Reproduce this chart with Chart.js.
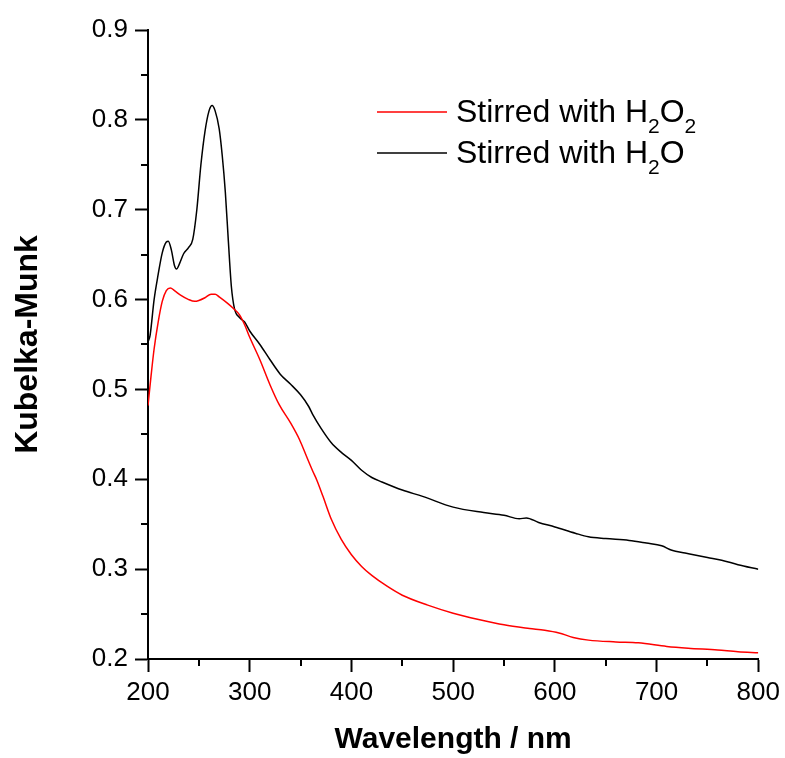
<!DOCTYPE html>
<html>
<head>
<meta charset="utf-8">
<script src="https://cdn.jsdelivr.net/npm/chart.js@4"></script>
<style>
  html, body { margin: 0; padding: 0; background: #fff; }
  #wrap { width: 785px; height: 758px; }
</style>
</head>
<body>
<div id="wrap"><canvas id="myChart" width="785" height="758"></canvas></div>
<script>
const ctx = document.getElementById("myChart");

// Stirred with H2O (black)
const h2oWavelength = [200, 202, 206, 210, 214, 218, 220, 223, 226, 228, 231, 235, 240, 244, 248, 252, 256, 260, 263, 266, 270, 273, 276, 279, 282, 285, 290, 295, 300, 310, 320, 330, 340, 350, 358, 362, 370, 380, 390, 400, 410, 420, 430, 450, 470, 500, 530, 550, 565, 572, 584, 600, 620, 633, 650, 673, 690, 705, 715, 728, 750, 764, 780, 800];
const h2oValues = [0.553, 0.560, 0.600, 0.628, 0.652, 0.664, 0.665, 0.655, 0.638, 0.634, 0.640, 0.651, 0.658, 0.667, 0.700, 0.750, 0.787, 0.810, 0.816, 0.810, 0.790, 0.760, 0.720, 0.665, 0.614, 0.590, 0.580, 0.575, 0.565, 0.550, 0.533, 0.517, 0.506, 0.494, 0.481, 0.472, 0.457, 0.441, 0.430, 0.421, 0.410, 0.402, 0.397, 0.388, 0.381, 0.369, 0.363, 0.360, 0.356, 0.357, 0.352, 0.347, 0.340, 0.336, 0.334, 0.332, 0.329, 0.326, 0.321, 0.318, 0.313, 0.310, 0.305, 0.300];

// Stirred with H2O2 (red)
const h2o2Wavelength = [200, 203, 206, 210, 214, 218, 222, 226, 232, 240, 246, 250, 256, 262, 266, 270, 278, 284, 290, 295, 300, 310, 320, 329, 340, 349, 356, 362, 366, 372, 380, 390, 400, 410, 420, 435, 450, 475, 500, 525, 550, 575, 590, 604, 618, 633, 660, 682, 710, 731, 760, 780, 800];
const h2o2Values = [0.482, 0.515, 0.545, 0.575, 0.598, 0.610, 0.613, 0.610, 0.605, 0.600, 0.598, 0.599, 0.602, 0.606, 0.606, 0.603, 0.596, 0.590, 0.583, 0.572, 0.558, 0.533, 0.505, 0.483, 0.463, 0.444, 0.425, 0.409, 0.399, 0.381, 0.356, 0.333, 0.316, 0.303, 0.293, 0.281, 0.271, 0.260, 0.251, 0.244, 0.238, 0.234, 0.232, 0.229, 0.224, 0.221, 0.219, 0.218, 0.214, 0.212, 0.210, 0.208, 0.207];

const xMinorTicks = [250, 350, 450, 550, 650, 750];
const yMinorTicks = [0.25, 0.35, 0.45, 0.55, 0.65, 0.75, 0.85];

function toPoints(xs, ys) {
  return xs.map((x, i) => ({ x: x, y: ys[i] }));
}

const FONT = "'Liberation Sans', Arial, sans-serif";

// minor ticks drawn from the scales
const minorTicks = {
  id: "minorTicks",
  afterDraw(chart) {
    const c = chart.ctx;
    const area = chart.chartArea;
    const xs = chart.scales.x;
    const ys = chart.scales.y;
    c.save();
    c.strokeStyle = "#000";
    c.lineWidth = 2;
    c.beginPath();
    xMinorTicks.forEach((v) => {
      const px = Math.round(xs.getPixelForValue(v));
      c.moveTo(px, area.bottom);
      c.lineTo(px, area.bottom + 7);
    });
    yMinorTicks.forEach((v) => {
      const py = Math.round(ys.getPixelForValue(v));
      c.moveTo(area.left, py);
      c.lineTo(area.left - 7, py);
    });
    c.stroke();
    c.restore();
  },
};

// legend with subscripts
const subLegend = {
  id: "subLegend",
  afterDraw(chart) {
    const c = chart.ctx;
    const rows = [
      { color: "#ff0000", y: 112, parts: [["Stirred with H", 0], ["2", 1], ["O", 0], ["2", 1]] },
      { color: "#000000", y: 153, parts: [["Stirred with H", 0], ["2", 1], ["O", 0]] },
    ];
    c.save();
    rows.forEach((r) => {
      c.strokeStyle = r.color;
      c.lineWidth = 1.5;
      c.beginPath();
      c.moveTo(377, r.y);
      c.lineTo(447, r.y);
      c.stroke();
      let x = 456;
      const base = r.y + 10;
      c.fillStyle = "#000";
      c.textBaseline = "alphabetic";
      r.parts.forEach(([t, sub]) => {
        c.font = (sub ? "21px " : "32px ") + FONT;
        c.fillText(t, x, sub ? base + 11 : base);
        x += c.measureText(t).width;
      });
    });
    c.restore();
  },
};

new Chart(ctx, {
  type: "line",
  data: {
    datasets: [
      {
        label: "Stirred with H2O2",
        data: toPoints(h2o2Wavelength, h2o2Values),
        borderColor: "#ff0000",
        borderWidth: 1.5,
        pointRadius: 0,
        cubicInterpolationMode: "monotone",
      },
      {
        label: "Stirred with H2O",
        data: toPoints(h2oWavelength, h2oValues),
        borderColor: "#000000",
        borderWidth: 1.5,
        pointRadius: 0,
        cubicInterpolationMode: "monotone",
      },
    ],
  },
  options: {
    responsive: false,
    animation: false,
    layout: { padding: { top: 30, right: 25, left: 0, bottom: 0 } },
    plugins: {
      legend: { display: false },
      tooltip: { enabled: false },
    },
    scales: {
      x: {
        type: "linear",
        min: 200,
        max: 800,
        afterFit(scale) { scale.height = 99; },
        border: { display: true, color: "#000", width: 2 },
        grid: { drawOnChartArea: false, drawTicks: true, tickLength: 13, tickWidth: 2, tickColor: "#000" },
        ticks: { stepSize: 100, color: "#000", padding: 5, font: { family: FONT, size: 26 } },
        title: {
          display: true,
          text: "Wavelength / nm",
          color: "#000",
          padding: { top: 0, bottom: 3 },
          font: { family: FONT, size: 30, weight: "bold", lineHeight: 1 },
        },
      },
      y: {
        min: 0.2,
        max: 0.9,
        afterFit(scale) { scale.width = 148; },
        border: { display: true, color: "#000", width: 2 },
        grid: { drawOnChartArea: false, drawTicks: true, tickLength: 13, tickWidth: 2, tickColor: "#000" },
        ticks: {
          stepSize: 0.1,
          color: "#000",
          padding: 7,
          font: { family: FONT, size: 26 },
          callback: (v) => v.toFixed(1),
        },
        title: {
          display: true,
          text: "Kubelka-Munk",
          color: "#000",
          padding: { top: 12, bottom: 0 },
          font: { family: FONT, size: 32, weight: "bold", lineHeight: 1 },
        },
      },
    },
  },
  plugins: [minorTicks, subLegend],
});
</script>
</body>
</html>
